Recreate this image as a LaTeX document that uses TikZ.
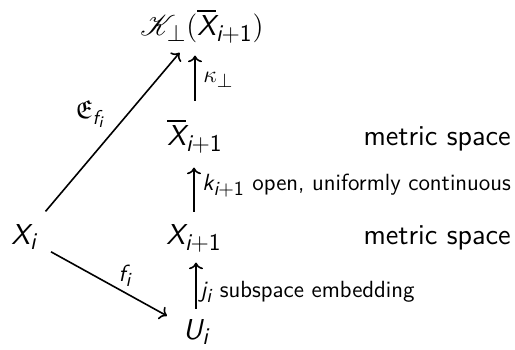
\documentclass[tikz,border=0pt]{standalone}
\usepackage{amsmath,amssymb}
\usepackage{mathrsfs}
\usetikzlibrary{arrows.meta,positioning}
\DeclareMathSizes{14.4}{14.4}{12}{9}
\DeclareMathSizes{11.7}{13}{10}{8}
\newcommand{\sv}[1]{\text{\sffamily\itshape #1}}
\newcommand{\sn}[1]{\text{\sffamily #1}}

\begin{document}
\begin{tikzpicture}[x=0.5pt,y=-0.5pt,font=\fontsize{14.4}{17}\selectfont,
    obj/.style={anchor=base,inner sep=0pt},
    lbl/.style={font=\fontsize{11.7}{14}\selectfont\sffamily,inner sep=0pt},
    map/.style={->,line width=0.8pt}]
  \useasboundingbox (0,0) rectangle (515,349);
  \node[obj](K)at(202,35){$\mathscr{K}_{\perp}(\overline{\sv{X}}_{\sv{i}+\sn{1}})$};
  \node[obj](Xb)at(195,145){$\overline{\sv{X}}_{\sv{i}+\sn{1}}$};
  \node[obj](X1)at(194,244){$\sv{X}_{\sv{i}+\sn{1}}$};
  \node[obj](Xi)at(24,244){$\sv{X}_{\sv{i}}$};
  \node[obj](U)at(196,339){$\sv{U}_{\sv{i}}$};
  \node[obj,anchor=base east,font=\fontsize{14.4}{17}\selectfont\sffamily](ms1)at(511,145){metric space};
  \node[obj,anchor=base east,font=\fontsize{14.4}{17}\selectfont\sffamily](ms2)at(511,244){metric space};
  % maps
  \draw[map,shorten <=9pt,shorten >=6pt](Xb.north)--(Xb.north|-K.south);
  \draw[map,shorten <=6pt,shorten >=7pt](X1.north)--(X1.north|-Xb.south);
  \draw[map,shorten <=5pt,shorten >=5pt](U.north)--(U.north|-X1.south);
  \draw[map,shorten <=8pt,shorten >=6pt](Xi)--(K);
  \draw[map,shorten <=8pt,shorten >=9pt](Xi)--(U);
  % labels
  \node[lbl,anchor=west](lkap)at(203,80){$\kappa_{\perp}$};
  \node[lbl,anchor=base west](lk)at(202,190){$\sv{k}_{\sv{i}+\sn{1}}$ open, uniformly continuous};
  \node[lbl,anchor=base west](lj)at(200,297){$\sv{j}_{\sv{i}}$ subspace embedding};
  \node[lbl](lE)at(90,114){$\mathfrak{E}_{\sv{f}_{\sv{i}}}$};
  \node[lbl](lf)at(125,276){$\sv{f}_{\sv{i}}$};
\end{tikzpicture}
\end{document}
